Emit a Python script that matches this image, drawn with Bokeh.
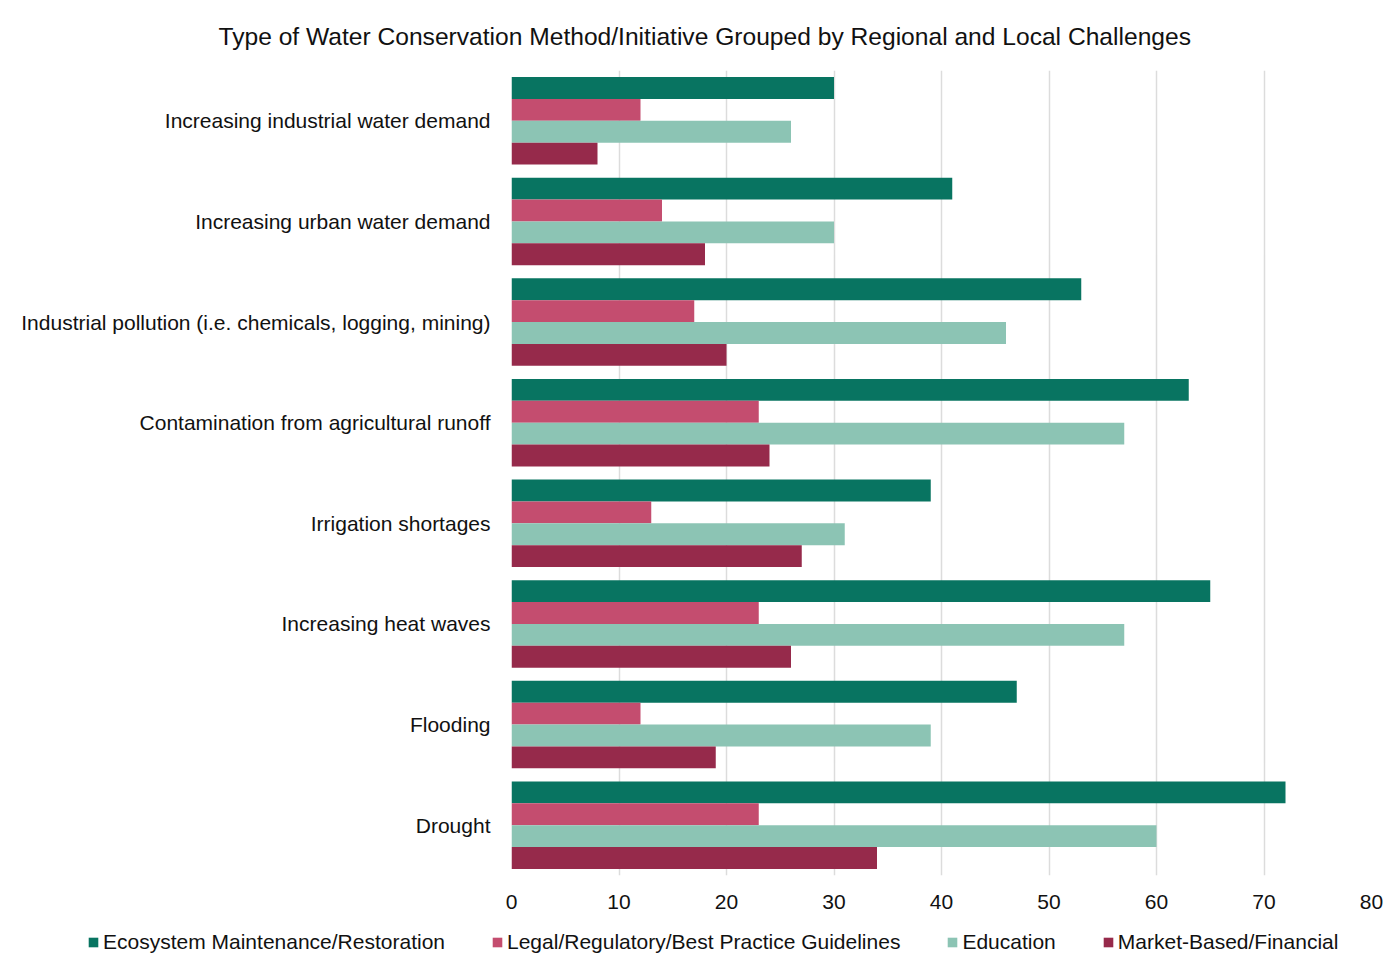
from bokeh.plotting import figure
from bokeh.models import ColumnDataSource, FactorRange, Legend, LegendItem, Range1d, FixedTicker
from bokeh.transform import dodge
from bokeh.embed import file_html
from bokeh.resources import INLINE

categories = [
    "Increasing industrial water demand",
    "Increasing urban water demand",
    "Industrial pollution (i.e. chemicals, logging, mining)",
    "Contamination from agricultural runoff",
    "Irrigation shortages",
    "Increasing heat waves",
    "Flooding",
    "Drought",
]
series_names = [
    "Ecosystem Maintenance/Restoration",
    "Legal/Regulatory/Best Practice Guidelines",
    "Education",
    "Market-Based/Financial",
]
ecosystem = [30, 41, 53, 63, 39, 65, 47, 72]
legal = [12, 14, 17, 23, 13, 23, 12, 23]
education = [26, 30, 46, 57, 31, 57, 39, 60]
market = [8, 18, 20, 24, 27, 26, 19, 34]
x_ticks = [0, 10, 20, 30, 40, 50, 60, 70, 80]

colors = ["#087461", "#C44D6F", "#8CC4B4", "#962A4B"]
FONT = "Liberation Sans"
TEXT = "#111111"

source = ColumnDataSource(dict(cat=categories, eco=ecosystem, legal=legal,
                               edu=education, market=market))
fields = ["eco", "legal", "edu", "market"]
offsets = [0.326, 0.109, -0.109, -0.326]

p = figure(
    width=1386, height=915,
    y_range=FactorRange(*reversed(categories)),
    x_range=Range1d(0, 80),
    output_backend="svg", toolbar_location=None,
    title="Type of Water Conservation Method/Initiative Grouped by Regional and Local Challenges",
    min_border_left=511, min_border_right=15, min_border_top=70, min_border_bottom=40,
)
p.title.align = "left"
p.title.offset = -293
p.title.text_font = FONT
p.title.text_font_size = "24.6px"
p.title.text_font_style = "normal"
p.title.text_color = TEXT
p.title.standoff = 41

for f, off, c in zip(fields, offsets, colors):
    p.hbar(y=dodge("cat", off, range=p.y_range), right=f, left=0, height=0.218,
           source=source, fill_color=c, line_color=None)

p.outline_line_color = None
p.ygrid.grid_line_color = None
p.xgrid.grid_line_color = "#dcdcdc"
p.xgrid.grid_line_width = 1.5
p.xaxis.ticker = FixedTicker(ticks=x_ticks)

for ax in (p.xaxis[0], p.yaxis[0]):
    ax.axis_line_color = None
    ax.major_tick_line_color = None
    ax.minor_tick_line_color = None
    ax.major_label_text_font = FONT
    ax.major_label_text_font_size = "21px"
    ax.major_label_text_color = TEXT
p.yaxis.major_label_standoff = 15
p.xaxis.major_label_standoff = 13

# legend strip below the chart (separate root so its frame spans the full width)
lg = figure(width=1386, height=50, x_range=Range1d(0, 80),
            y_range=FactorRange(*reversed(categories)),
            output_backend="svg", toolbar_location=None,
            min_border_left=0, min_border_right=0, min_border_top=0, min_border_bottom=0)
lg.axis.visible = False
lg.grid.grid_line_color = None
lg.outline_line_color = None
swatches = []
for f, c in zip(fields, colors):
    r = lg.hbar(y="cat", right=f, left=0, height=0.2, source=source,
                fill_color=c, line_color=None)
    r.visible = False
    swatches.append(r)

legend = Legend(
    items=[LegendItem(label=n, renderers=[r]) for n, r in zip(series_names, swatches)],
    orientation="horizontal", location=(87, 11),
    glyph_width=12, glyph_height=12, label_standoff=4, spacing=46,
    padding=0, margin=0, border_line_color=None, background_fill_alpha=0,
    inactive_fill_alpha=0,
    label_text_font=FONT, label_text_font_size="21px", label_text_color=TEXT,
)
lg.add_layout(legend, "center")

open("out.html", "w").write(file_html([p, lg], INLINE))
